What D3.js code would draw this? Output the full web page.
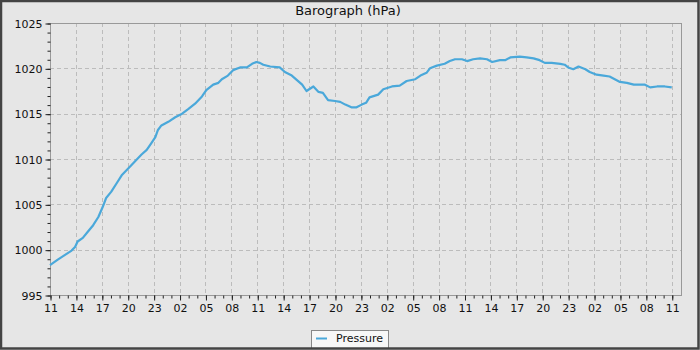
<html>
<head>
<meta charset="utf-8">
<title>Barograph</title>
<script src="https://cdn.jsdelivr.net/npm/d3@7"></script>
<style type="text/css">
	body { margin: 0; background: #e6e6e6; }
	#chart { width: 700px; height: 350px; }
	text { font-family: "DejaVu Sans", sans-serif; fill: #111; }
</style>
</head>
<body>
<div id="chart"></div>
<script type="text/javascript">

	var hours = [0, 0.9, 1.7, 2.5, 2.9, 3.2, 3.8, 4.4, 5.0, 5.6, 6.1, 6.5, 7.1, 7.7, 8.3, 9.0, 9.8, 10.6, 11.2, 11.7,
		12.2, 12.5, 12.9, 13.7, 14.5, 15.3, 16.0, 16.8, 17.6, 18.1, 18.9, 19.5, 19.9, 20.6, 21.2, 22.0, 22.8, 23.4, 23.9,
		24.3, 24.7, 25.5, 26.6, 27.2, 28.0, 28.6, 29.2, 29.7, 30.5, 31.1, 31.6, 32.2, 33.0, 33.6, 34.2, 34.9, 35.5,
		36.1, 36.6, 37.0, 38.0, 38.6, 39.6, 40.5, 41.3, 42.3, 42.9, 43.6, 44.0, 44.8, 45.7, 46.3, 46.9, 47.7,
		48.3, 49.0, 49.8, 50.6, 51.2, 52.1, 52.7, 53.3, 54.4, 55.2, 56.0, 56.7, 57.3, 58.1, 59.1, 59.6,
		60.0, 60.6, 61.2, 62.0, 62.5, 63.3, 64.1, 64.8, 65.4, 66.0, 66.8, 67.6, 68.3, 68.9, 69.5, 70.3, 71.2, 72.0];

	var pressure = [998.3, 998.9, 999.4, 999.9, 1000.3, 1000.9, 1001.3, 1002.0, 1002.7, 1003.6, 1004.7, 1005.7, 1006.4, 1007.3, 1008.2, 1008.9, 1009.7, 1010.5, 1011.0, 1011.7,
		1012.4, 1013.2, 1013.7, 1014.1, 1014.6, 1015.0, 1015.5, 1016.1, 1016.9, 1017.6, 1018.2, 1018.4, 1018.8, 1019.2, 1019.8, 1020.1, 1020.1, 1020.5, 1020.7,
		1020.6, 1020.4, 1020.2, 1020.1, 1019.6, 1019.2, 1018.7, 1018.2, 1017.5, 1018.0, 1017.4, 1017.3, 1016.5, 1016.4, 1016.3, 1016.0, 1015.7, 1015.7,
		1016.0, 1016.2, 1016.8, 1017.1, 1017.7, 1018.0, 1018.1, 1018.6, 1018.8, 1019.2, 1019.5, 1020.0, 1020.3, 1020.5, 1020.8, 1021.0, 1021.0,
		1020.8, 1021.0, 1021.1, 1021.0, 1020.7, 1020.9, 1020.9, 1021.2, 1021.3, 1021.2, 1021.1, 1020.9, 1020.6, 1020.6, 1020.5, 1020.4,
		1020.1, 1019.9, 1020.2, 1019.9, 1019.6, 1019.3, 1019.2, 1019.1, 1018.8, 1018.5, 1018.4, 1018.2, 1018.2, 1018.2, 1017.9, 1018.0, 1018.0, 1017.9];

	var yTicks = [995, 1000, 1005, 1010, 1015, 1020, 1025];
	var seriesName = "Pressure";
	var title = "Barograph (hPa)";

	// Time domain: starts at 11:00, a bit over three days
	var start = new Date(2024, 0, 1, 11, 0, 0),
	    hourMs = 3600 * 1000,
	    data = hours.map(function(h, i){ return { t: new Date(+start + h * hourMs), v: pressure[i] } });

	// Plot box (pL/pR/pT/pB, "top" is taken by window.top)
	var W = 700, H = 350,
	    pL = 50, pR = 681, pT = 23, pB = 295,
	    lineColor = "#4aa8da";

	var svg = d3.select("#chart").append("svg").attr("width", W).attr("height", H);

	svg.append("rect").attr("x", 0).attr("y", 0).attr("width", W).attr("height", H).attr("fill", "#e6e6e6");

	var x = d3.scaleTime()
		.domain([start, new Date(+start + 73.07 * hourMs)])
		.range([pL, pR]);

	var y = d3.scaleLinear()
		.domain([995, 1025])
		.range([pB, pT]);

	var major3 = d3.timeHour.range(start, new Date(+start + 72.5 * hourMs), 3),
	    minor1 = d3.timeHour.range(start, new Date(+start + 72.5 * hourMs), 1),
	    yMinor = d3.range(995, 1025.5, 1);

	// Dashed grid
	var grid = svg.append("g").attr("stroke", "#bcbcbc").attr("stroke-dasharray", "4,3").attr("stroke-width", 1);
	grid.selectAll(".vg").data(major3.slice(1)).enter().append("line")
		.attr("x1", function(d){ return Math.round(x(d)) + 0.5 })
		.attr("x2", function(d){ return Math.round(x(d)) + 0.5 })
		.attr("y1", pT).attr("y2", pB);
	grid.selectAll(".hg").data(yTicks.slice(1, -1)).enter().append("line")
		.attr("y1", function(d){ return Math.round(y(d)) + 0.5 })
		.attr("y2", function(d){ return Math.round(y(d)) + 0.5 })
		.attr("x1", pL).attr("x2", pR);

	// Plot border
	svg.append("rect")
		.attr("x", pL + 0.5).attr("y", pT + 0.5)
		.attr("width", pR - pL).attr("height", pB - pT)
		.attr("fill", "none").attr("stroke", "#999");

	// Y axis: majors with labels, minors every hPa
	var yAxis = d3.axisLeft(y).tickValues(yTicks).tickSize(5).tickPadding(3).tickFormat(d3.format("d"));
	var gy = svg.append("g").attr("transform", "translate(" + (pL + 0.5) + ",0.5)").call(yAxis);
	gy.select(".domain").remove();
	gy.selectAll(".tick line").attr("stroke", "#222");
	gy.selectAll("text").style("font-size", "11px").attr("fill", "#111");
	var gym = svg.append("g").attr("transform", "translate(" + (pL + 0.5) + ",0.5)")
		.call(d3.axisLeft(y).tickValues(yMinor).tickSize(3).tickFormat(""));
	gym.select(".domain").remove();
	gym.selectAll(".tick line").attr("stroke", "#222");

	// X axis: labels every 3 hours, ticks every hour
	var xAxis = d3.axisBottom(x).tickValues(major3).tickSize(5).tickPadding(4).tickFormat(d3.timeFormat("%H"));
	var gx = svg.append("g").attr("transform", "translate(0.5," + (pB + 0.5) + ")").call(xAxis);
	gx.select(".domain").remove();
	gx.selectAll(".tick line").attr("stroke", "#222");
	gx.selectAll("text").style("font-size", "11px").attr("fill", "#111");
	var gxm = svg.append("g").attr("transform", "translate(0.5," + (pB + 0.5) + ")")
		.call(d3.axisBottom(x).tickValues(minor1).tickSize(3).tickFormat(""));
	gxm.select(".domain").remove();
	gxm.selectAll(".tick line").attr("stroke", "#222");

	// Pressure line
	var line = d3.line()
		.x(function(d){ return x(d.t) })
		.y(function(d){ return y(d.v) });

	svg.append("path")
		.datum(data)
		.attr("d", line)
		.attr("fill", "none")
		.attr("stroke", lineColor)
		.attr("stroke-width", 2.2)
		.attr("stroke-linejoin", "round");

	// Title
	svg.append("text")
		.attr("x", 348).attr("y", 15)
		.attr("text-anchor", "middle")
		.style("font-size", "13px")
		.text(title);

	// Legend
	var lg = svg.append("g").attr("transform", "translate(311,330)");
	lg.append("rect").attr("x", 0.5).attr("y", 0.5).attr("width", 77).attr("height", 18)
		.attr("fill", "#f7f7f7").attr("stroke", "#888");
	lg.append("line").attr("x1", 5).attr("x2", 16).attr("y1", 8.5).attr("y2", 8.5)
		.attr("stroke", lineColor).attr("stroke-width", 2);
	lg.append("text").attr("x", 25).attr("y", 12).style("font-size", "11px").text(seriesName);

	// Outer frame
	svg.append("rect").attr("x", 1).attr("y", 1).attr("width", W - 2.5).attr("height", H - 2.5)
		.attr("fill", "none").attr("stroke", "#444").attr("stroke-width", 2.5);

</script>
</body>
</html>
